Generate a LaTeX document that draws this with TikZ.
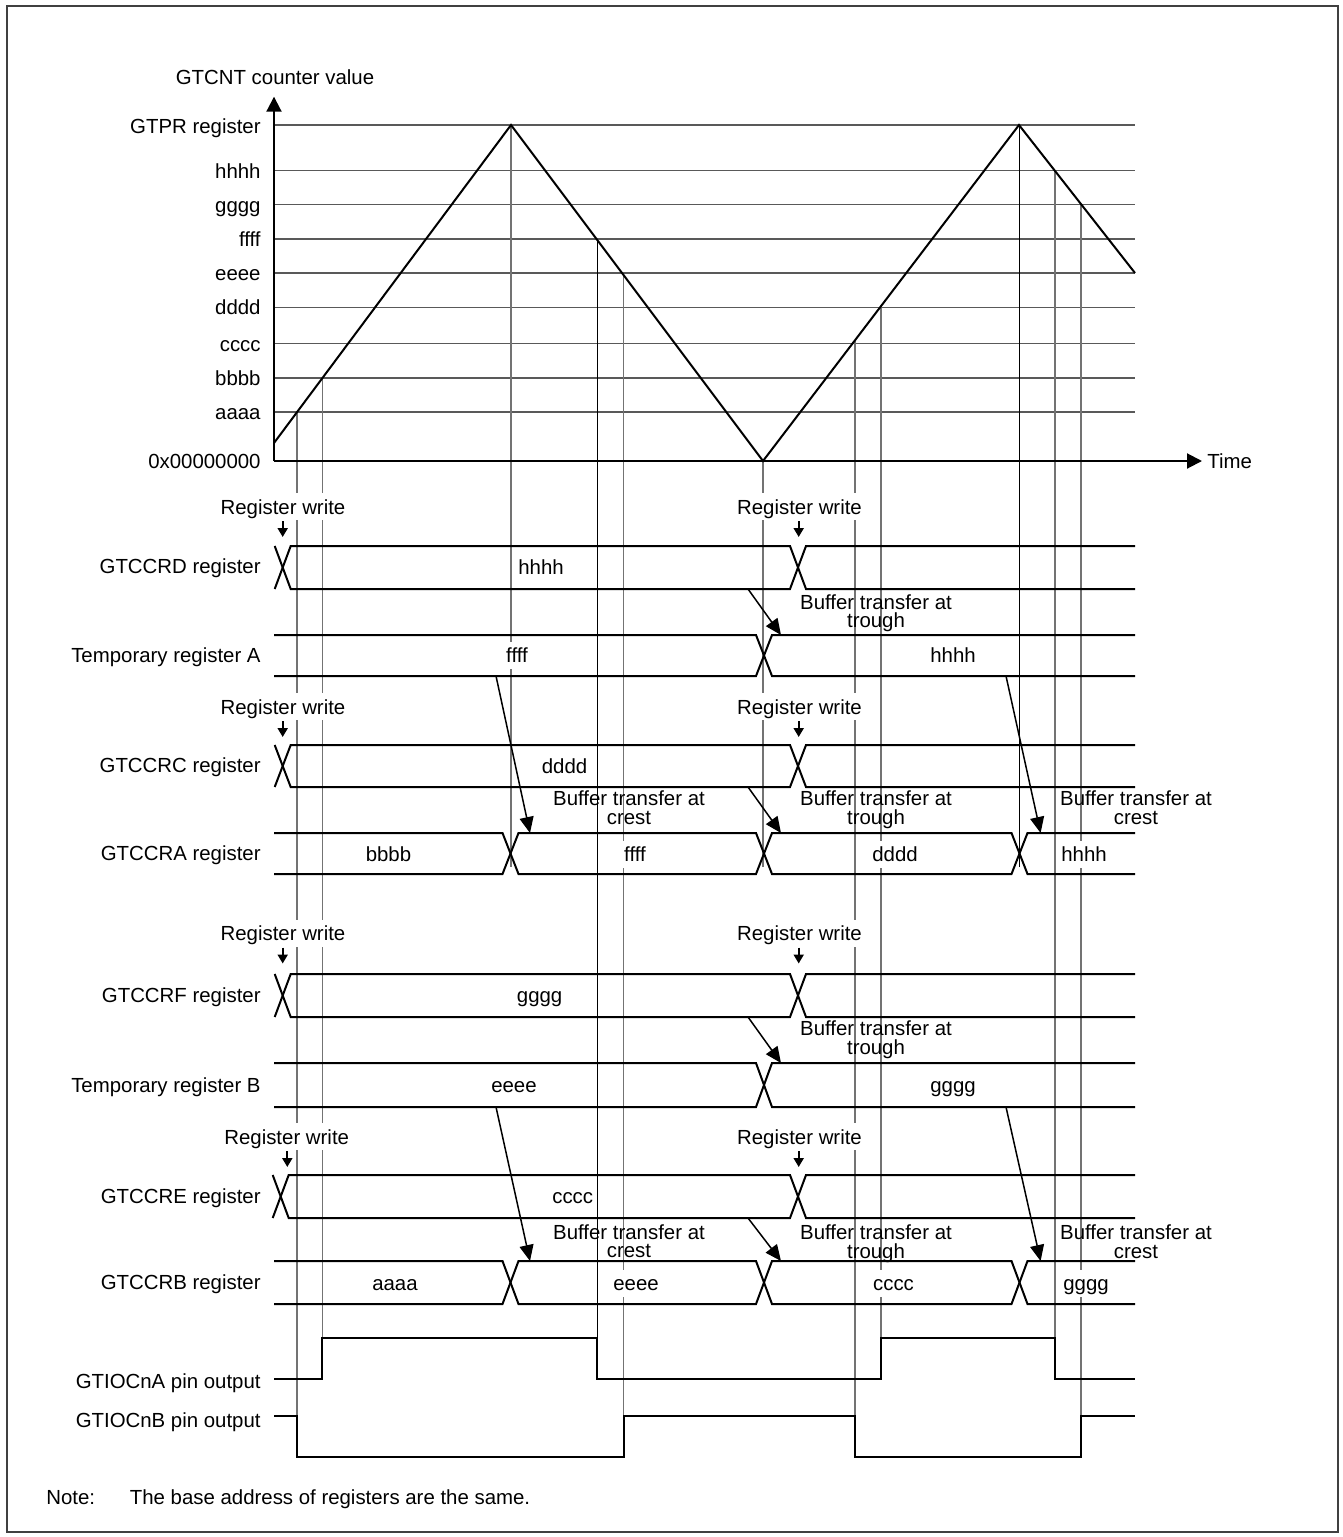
\documentclass[tikz,border=0pt]{standalone}
\usepackage{fontspec}
\setmainfont{Liberation Sans}
\usetikzlibrary{arrows.meta}
\newcommand\wrbus[3]{%
 \draw[sig] ({#3-8},#2) -- ({#3+8},#1) -- (790,#1) -- (806,#2) -- (1135,#2);
 \draw[sig] ({#3-8},#1) -- ({#3+8},#2) -- (790,#2) -- (806,#1) -- (1135,#1);}
\newcommand\tmpbus[2]{%
 \draw[sig] (274,#1) -- (756,#1) -- (772,#2) -- (1135,#2);
 \draw[sig] (274,#2) -- (756,#2) -- (772,#1) -- (1135,#1);}
\newcommand\crbus[2]{%
 \draw[sig] (274,#1) -- (502.5,#1) -- (518.5,#2) -- (756,#2) -- (772,#1) -- (1011.5,#1) -- (1027.5,#2) -- (1135,#2);
 \draw[sig] (274,#2) -- (502.5,#2) -- (518.5,#1) -- (756,#1) -- (772,#2) -- (1011.5,#2) -- (1027.5,#1) -- (1135,#1);}
\begin{document}
\begin{tikzpicture}[x=0.5pt,y=-0.5pt,
  font=\fontsize{10.2}{12}\selectfont,
  sig/.style={line width=1pt,line join=miter},
  hgrid/.style={line width=0.65pt,black!65},
  vgrid/.style={line width=0.6pt,black!55},
  vgridk/.style={line width=0.5pt,black},
  axis/.style={line width=1pt,-{Triangle[length=7.5pt,width=7.5pt]}},
  wave/.style={line width=1pt,line join=miter},
  lv/.style={inner sep=0pt,text height=7.3pt,text depth=0pt},
  lab/.style={lv,anchor=east},
  val/.style={lv,fill=white,inner xsep=2pt,inner ysep=3pt},
  wlab/.style={lv,fill=white,inner xsep=1pt,inner ysep=3pt},
  blab/.style={inner sep=0pt,anchor=north,align=center,font=\fontsize{10.2}{9.3}\selectfont},
  xfer/.style={line width=0.75pt,-{Triangle[length=8pt,width=7pt]}},
  wrarrow/.style={line width=1pt,-{Triangle[length=4.5pt,width=5pt]}},
]
\useasboundingbox (0,0) rectangle (1343,1537);
\draw[line width=1pt,black!75] (6.5,5.5) rectangle (1337.5,1531.5);

% ---------- counter chart ----------
\foreach \y in {125,170.7,204.7,239,273,307.3,343.7,378,412}
  \draw[hgrid] (274,\y) -- (1135,\y);

% vertical guide lines
\draw[vgrid] (297,412.1) -- (297,1457);
\draw[vgrid] (322.4,378.1) -- (322.4,1379);
\draw[vgrid] (511,125) -- (511,867);
\draw[vgridk] (597,239.7) -- (597,1379);
\draw[vgrid] (623.5,275) -- (623.5,1457);
\draw[vgrid] (763,461) -- (763,867);
\draw[vgrid] (855,340.3) -- (855,1457);
\draw[vgrid] (881,306.1) -- (881,1379);
\draw[vgridk] (1019,125) -- (1019,867);
\draw[vgrid] (1055,170.9) -- (1055,1379);
\draw[vgrid] (1081,204.1) -- (1081,1457);

% wave
\coordinate (w0) at (274,443);
\coordinate (w1) at (511,125);
\coordinate (w2) at (763,461);
\coordinate (w3) at (1019,125);
\coordinate (w4) at (1135,273);
\draw[wave] (w0) -- (w1) -- (w2) -- (w3) -- (w4);

% axes
\coordinate (org) at (274,461);
\node[lv] (ylab) at (275,77) {GTCNT counter value};
\node[lv,anchor=west] (time) at (1207,461) {Time};
\coordinate (ytip) at (274,96.7);
\draw[axis] (org) -- (ytip);
\draw[axis,shorten >=2.5pt] (org) -- (time.west);

% level labels
\node[lab] (lgtpr) at (261,126) {GTPR register};
\node[lab] (lh) at (261,170.7) {hhhh};
\node[lab] (lg) at (261,204.7) {gggg};
\node[lab] (lf) at (261,239.5) {ffff};
\node[lab] (le) at (261,273.5) {eeee};
\node[lab] (ld) at (261,307.3) {dddd};
\node[lab] (lc) at (261,343.7) {cccc};
\node[lab] (lb) at (261,378) {bbbb};
\node[lab] (la) at (261,412) {aaaa};
\node[lab] (lzero) at (261,461) {0x00000000};

% ---------- register rows ----------
\wrbus{546}{589}{282.7}
\tmpbus{635}{676}
\wrbus{745}{787}{282.7}
\crbus{833}{874}
\wrbus{974}{1017}{282.7}
\tmpbus{1063}{1107}
\wrbus{1175}{1218}{280.7}
\crbus{1261}{1304}

\node[lab] (rD) at (261,566) {GTCCRD register};
\node[lab] (rTA) at (261,655.5) {Temporary register A};
\node[lab] (rC) at (261,765.5) {GTCCRC register};
\node[lab] (rA) at (261,853.5) {GTCCRA register};
\node[lab] (rF) at (261,995.5) {GTCCRF register};
\node[lab] (rTB) at (261,1085) {Temporary register B};
\node[lab] (rE) at (261,1196) {GTCCRE register};
\node[lab] (rB) at (261,1282.5) {GTCCRB register};

% values
\node[val] (vD) at (541,567.5) {hhhh};
\node[val] (vTA1) at (517,655.5) {ffff};
\node[val] (vTA2) at (953,655.5) {hhhh};
\node[val] (vC) at (564.5,766) {dddd};
\node[val] (vA1) at (388.5,854.5) {bbbb};
\node[val] (vA2) at (635,854.5) {ffff};
\node[val] (vA3) at (895,854.5) {dddd};
\node[val] (vA4) at (1084,854.5) {hhhh};
\node[val] (vF) at (539.6,995.5) {gggg};
\node[val] (vTB1) at (514,1085) {eeee};
\node[val] (vTB2) at (953,1085) {gggg};
\node[val] (vE) at (572.7,1196.5) {cccc};
\node[val] (vB1) at (395,1283.5) {aaaa};
\node[val] (vB2) at (636,1283.5) {eeee};
\node[val] (vB3) at (893.5,1283.5) {cccc};
\node[val] (vB4) at (1086,1283.5) {gggg};

% register write marks
\node[wlab] (wD1) at (283,506.7) {Register write};
\node[wlab] (wD2) at (799.5,506.7) {Register write};
\node[wlab] (wC1) at (283,706.7) {Register write};
\node[wlab] (wC2) at (799.5,706.7) {Register write};
\node[wlab] (wF1) at (283,933.3) {Register write};
\node[wlab] (wF2) at (799.5,933.3) {Register write};
\node[wlab] (wE1) at (286.7,1136.7) {Register write};
\node[wlab] (wE2) at (799.5,1136.7) {Register write};
\coordinate (aD1) at (282.7,537);
\coordinate (aD2) at (798.7,537);
\coordinate (aC1) at (282.7,737);
\coordinate (aC2) at (798.7,737);
\coordinate (aF1) at (282.7,963.5);
\coordinate (aF2) at (798.7,963.5);
\coordinate (aE1) at (287.3,1167);
\coordinate (aE2) at (798.7,1167);
\draw[wrarrow] (282.7,521) -- (aD1);
\draw[wrarrow] (798.7,521) -- (aD2);
\draw[wrarrow] (282.7,721) -- (aC1);
\draw[wrarrow] (798.7,721) -- (aC2);
\draw[wrarrow] (282.7,947.5) -- (aF1);
\draw[wrarrow] (798.7,947.5) -- (aF2);
\draw[wrarrow] (287.3,1151) -- (aE1);
\draw[wrarrow] (798.7,1151) -- (aE2);

% buffer transfers
\coordinate (t1s) at (748,589);   \coordinate (t1e) at (781,635);
\coordinate (c1s) at (496,676);   \coordinate (c1e) at (530,833);
\coordinate (t2s) at (748,787);   \coordinate (t2e) at (781,833);
\coordinate (c2s) at (1006,676);  \coordinate (c2e) at (1040.6,833);
\coordinate (t3s) at (748,1017);  \coordinate (t3e) at (781,1063);
\coordinate (c3s) at (496,1107);  \coordinate (c3e) at (530,1261);
\coordinate (t4s) at (748,1218);  \coordinate (t4e) at (781,1261);
\coordinate (c4s) at (1006,1107); \coordinate (c4e) at (1040.6,1261);
\foreach \a in {t1,c1,t2,c2,t3,c3,t4,c4} \draw[xfer] (\a s) -- (\a e);

\node[blab] (bt1) at (876,594) {Buffer transfer at\\trough};
\node[blab] (bc1) at (629,790.7) {Buffer transfer at\\crest};
\node[blab] (bt2) at (876,790.7) {Buffer transfer at\\trough};
\node[blab] (bc2) at (1136,790.7) {Buffer transfer at\\crest};
\node[blab] (bt3) at (876,1020.7) {Buffer transfer at\\trough};
\node[blab] (bc3) at (629,1224) {Buffer transfer at\\crest};
\node[blab] (bt4) at (876,1224.7) {Buffer transfer at\\trough};
\node[blab] (bc4) at (1136,1224.5) {Buffer transfer at\\crest};

% ---------- pin outputs ----------
\draw[sig] (274,1379) -- (322.4,1379) -- (322.4,1338) -- (597,1338) -- (597,1379)
  -- (881,1379) -- (881,1338) -- (1055,1338) -- (1055,1379) -- (1135,1379);
\draw[sig] (274,1416) -- (297,1416) -- (297,1457) -- (623.5,1457) -- (623.5,1416)
  -- (855,1416) -- (855,1457) -- (1081,1457) -- (1081,1416) -- (1135,1416);
\node[lab] (pA) at (261,1381) {GTIOCnA pin output};
\node[lab] (pB) at (261,1420) {GTIOCnB pin output};

% note
\node[lv,anchor=west] (note) at (46,1497) {Note:};
\node[lv,anchor=west] (notetext) at (129.5,1497) {The base address of registers are the same.};
\end{tikzpicture}
\end{document}
